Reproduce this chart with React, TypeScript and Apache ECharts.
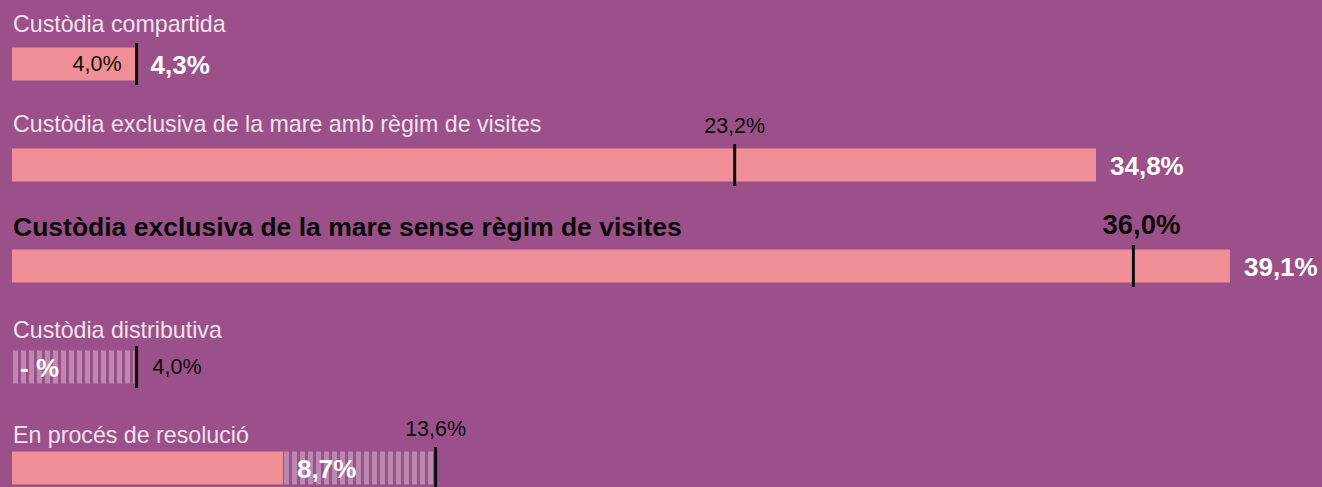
import React, { useEffect, useRef } from "react";
import * as echarts from "echarts";

// ---- data ----
const categories = [
  "Custòdia compartida",
  "Custòdia exclusiva de la mare amb règim de visites",
  "Custòdia exclusiva de la mare sense règim de visites",
  "Custòdia distributiva",
  "En procés de resolució",
];
// current values (white bold labels); null = no data ("- %")
const currentValues: (number | null)[] = [4.3, 34.8, 39.1, null, 8.7];
// bar lengths as drawn in the picture
const barLengths = [4.0, 34.8, 39.1, 0, 8.7];
// previous / comparison values (black marker + label)
const previousValues = [4.0, 23.2, 36.0, 4.0, 13.6];
// rows where the gap between bar and marker is hatched
const hatched = [false, false, false, true, true];
const highlighted = 2;

// ---- style / layout ----
const markerLabelPlacement = ["left", "top", "top", "right", "top"];
const titleDy = [-40.5, -41, -39, -37.5, -33];
const BG = "#9b508a";
const PINK = "#f08f95";
const FONT = "'Liberation Sans', Helvetica, Arial, sans-serif";

const fmt = (v: number) => v.toFixed(1).replace(".", ",") + "%";

export default function App() {
  const ref = useRef<HTMLDivElement>(null);
  useEffect(() => {
    const chart = echarts.init(ref.current!, null, { renderer: "svg" });
    const data = categories.map((_, i) => [barLengths[i], previousValues[i], i]);
    chart.setOption({
      animation: false,
      backgroundColor: BG,
      grid: { left: 12, right: 64, top: 64, bottom: 19 },
      xAxis: { type: "value", min: 0, max: 40, show: false },
      yAxis: {
        type: "category",
        data: categories,
        inverse: true,
        boundaryGap: false,
        show: false,
      },
      series: [
        {
          type: "custom",
          data,
          encode: { x: [0, 1], y: 2 },
          renderItem: (params: any, api: any) => {
            const i = params.dataIndex;
            const base = api.coord([0, i]);
            const x0 = base[0];
            const yc = base[1];
            const xb = api.coord([barLengths[i], i])[0];
            const xm = api.coord([previousValues[i], i])[0];
            const barH = 33;
            const children: any[] = [];
            const hl = i === highlighted;

            // title
            children.push({
              type: "text",
              x: x0 + 1,
              y: yc + titleDy[i],
              style: {
                text: categories[i],
                fill: hl ? "#0a0a0a" : "#f3e2ee",
                fontFamily: FONT,
                fontSize: hl ? 26.5 : 23.2,
                fontWeight: hl ? "bold" : "normal",
                align: "left",
                verticalAlign: "middle",
              },
            });

            // bar
            if (barLengths[i] > 0) {
              children.push({
                type: "rect",
                shape: { x: x0, y: yc - barH / 2, width: xb - x0, height: barH },
                style: { fill: PINK },
              });
            }

            // hatch between bar end and marker
            if (hatched[i]) {
              const start = barLengths[i] > 0 ? xb + 1 : x0 + 1;
              const end = xm - 2;
              for (let x = start; x < end; x += 8) {
                children.push({
                  type: "rect",
                  shape: { x, y: yc - barH / 2, width: Math.min(5, end - x), height: barH },
                  style: { fill: "rgba(255,255,255,0.32)" },
                });
              }
            }

            // marker
            children.push({
              type: "rect",
              shape: { x: xm - 1.5, y: yc - 21, width: 3, height: 42 },
              style: { fill: "#0d0d0d" },
            });

            // current value label
            const cv = currentValues[i];
            children.push({
              type: "text",
              x: barLengths[i] > 0 ? xb + 14 : x0 + 8,
              y: yc + 1,
              style: {
                text: cv == null ? "- %" : fmt(cv),
                fill: "#ffffff",
                fontFamily: FONT,
                fontSize: 26,
                fontWeight: "bold",
                align: "left",
                verticalAlign: "middle",
              },
            });

            // previous value label
            const place = markerLabelPlacement[i];
            let lx = xm;
            let ly = yc;
            let align = "center";
            if (place === "left") {
              lx = xm - 15;
              align = "right";
            } else if (place === "right") {
              lx = xm + 16;
              align = "left";
            } else {
              ly = yc - (hl ? 41.5 : 39);
              if (hl) lx = xm + 8;
            }
            children.push({
              type: "text",
              x: lx,
              y: ly,
              style: {
                text: fmt(previousValues[i]),
                fill: "#0d0d0d",
                fontFamily: FONT,
                fontSize: hl ? 27.5 : 21.5,
                fontWeight: hl ? "bold" : "normal",
                align,
                verticalAlign: "middle",
              },
            });

            return { type: "group", children };
          },
        },
      ],
    });
    return () => chart.dispose();
  }, []);
  return (
    <div
      ref={ref}
      style={{ position: "absolute", left: 0, top: 0, width: 1322, height: 487 }}
    />
  );
}
